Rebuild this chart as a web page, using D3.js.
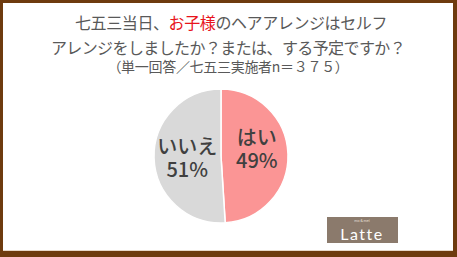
<!DOCTYPE html>
<html>
<head>
<meta charset="utf-8">
<script src="https://cdn.jsdelivr.net/npm/d3@7"></script>
<style>
  body { margin: 0; background: #fff; }
  svg { display: block; font-family: "Noto Sans CJK JP", sans-serif; }
</style>
</head>
<body>
<div id="chart"></div>
<script>
// data
var categories = ["はい", "いいえ"];
var values = [49, 51];
var colors = ["#fb9595", "#d9d9d9"];
var titleLines = ["七五三当日、お子様のヘアアレンジはセルフ", "アレンジをしましたか？または、する予定ですか？"];
var subTitle = "（単一回答／七五三実施者n＝３７５）";

var width = 457, height = 257;

var svg = d3.select("#chart")
  .append("svg")
    .attr("width", width)
    .attr("height", height);

// brown frame
svg.append("rect").attr("width", width).attr("height", height).attr("fill", "#6e3b0e");
svg.append("rect")
  .attr("x", 3).attr("y", 3)
  .attr("width", width - 7).attr("height", height - 10)
  .attr("fill", "#fff");
svg.append("line")
  .attr("x1", 3).attr("x2", width - 4)
  .attr("y1", height - 6.5).attr("y2", height - 6.5)
  .attr("stroke", "#e8d8c8").attr("stroke-width", 1);

// title
var t1 = svg.append("text")
  .attr("x", 231).attr("y", 29)
  .attr("text-anchor", "middle")
  .attr("font-size", 16)
  .attr("letter-spacing", -0.4)
  .attr("fill", "#595959");
t1.append("tspan").text("七五三当日、");
t1.append("tspan").attr("fill", "#e8141c").text("お子様");
t1.append("tspan").text("のヘアアレンジはセルフ");

svg.append("text")
  .attr("x", 228).attr("y", 54)
  .attr("text-anchor", "middle")
  .attr("font-size", 16)
  .attr("letter-spacing", -0.6)
  .attr("fill", "#595959")
  .text(titleLines[1]);

svg.append("text")
  .attr("x", 228).attr("y", 72)
  .attr("text-anchor", "middle")
  .attr("font-size", 14)
  .attr("letter-spacing", -0.3)
  .attr("fill", "#595959")
  .text(subTitle);

// pie
var cx = 221, cy = 156, r = 67;
var pie = d3.pie().sort(null).value(function(d) { return d; });
var arc = d3.arc().innerRadius(0).outerRadius(r);
var arcs = pie(values);

var g = svg.append("g").attr("transform", "translate(" + cx + "," + cy + ")");
g.selectAll("path")
  .data(arcs)
  .enter().append("path")
    .attr("d", arc)
    .attr("fill", function(d, i) { return colors[i]; })
    .attr("stroke", "#fff")
    .attr("stroke-width", 1.5);

var labelArc = d3.arc().innerRadius(r * 0.52).outerRadius(r * 0.52);
function labelPos(d, i) {
  var c = labelArc.centroid(d);
  return [c[0] + 1, c[1] + (i == 0 ? -4 : 3)];
}
g.selectAll("text.cat")
  .data(arcs)
  .enter().append("text")
    .attr("class", "cat")
    .attr("text-anchor", "middle")
    .attr("font-size", 20)
    .attr("font-weight", 500)
    .attr("fill", "#404040")
    .attr("x", function(d, i) { return labelPos(d, i)[0]; })
    .attr("y", function(d, i) { return labelPos(d, i)[1] - 6; })
    .text(function(d, i) { return categories[i]; });
g.selectAll("text.pct")
  .data(arcs)
  .enter().append("text")
    .attr("class", "pct")
    .attr("text-anchor", "middle")
    .attr("font-size", 20)
    .attr("font-weight", 500)
    .attr("fill", "#404040")
    .attr("x", function(d, i) { return labelPos(d, i)[0]; })
    .attr("y", function(d, i) { return labelPos(d, i)[1] + 17; })
    .text(function(d) { return d.data + "%"; });

// logo
svg.append("rect")
  .attr("x", 327).attr("y", 217)
  .attr("width", 71).attr("height", 26)
  .attr("fill", "#8b7a6c");
svg.append("text")
  .attr("x", 362).attr("y", 222)
  .attr("text-anchor", "middle")
  .attr("font-size", 3.5)
  .attr("fill", "#e8e0d8")
  .text("mo & mei");
svg.append("text")
  .attr("x", 362).attr("y", 240)
  .attr("text-anchor", "middle")
  .attr("font-size", 16)
  .attr("font-family", "Lato, sans-serif")
  .attr("letter-spacing", 1.5)
  .attr("fill", "#fff")
  .text("Latte");
</script>
</body>
</html>
